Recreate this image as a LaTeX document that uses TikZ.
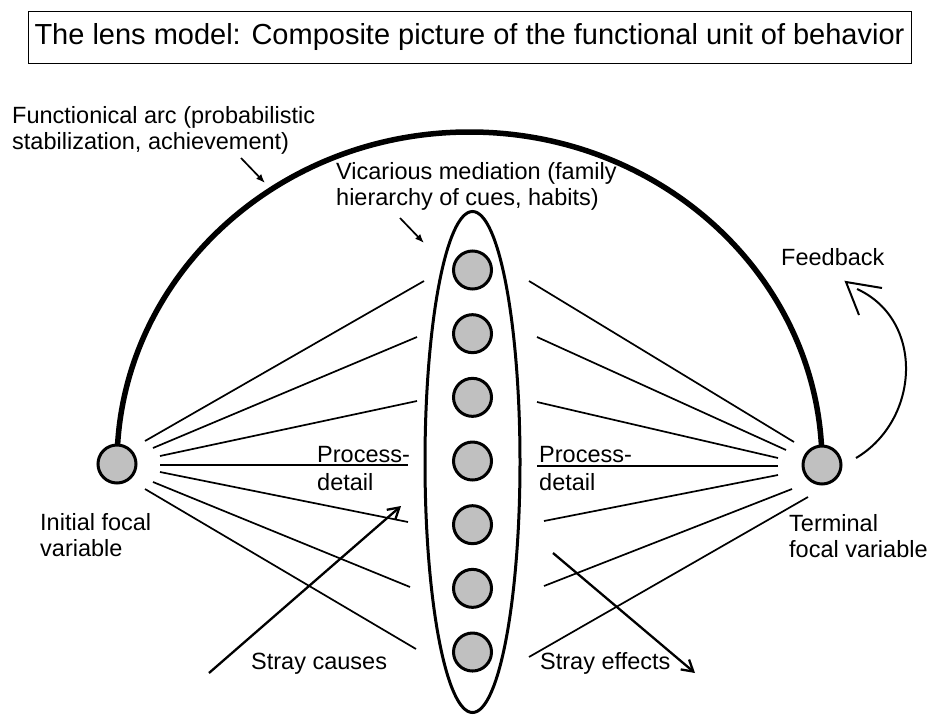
\documentclass[tikz,border=0pt]{standalone}
\usepackage{fontspec}
\setmainfont{Liberation Sans}
\usetikzlibrary{arrows.meta,shapes.geometric,backgrounds}
\definecolor{cuegray}{HTML}{C0C0C0}
\begin{document}
\begin{tikzpicture}[x=1pt,y=-1pt,
  focal/.style={circle,draw,line width=3pt,fill=cuegray,minimum size=38pt,inner sep=0pt},
  fan/.style={line width=1.7pt},
  lab/.style={font=\fontsize{23.5}{26.5}\selectfont,inner sep=0pt,anchor=base west},
  stray/.style={line width=2.3pt,-{Straight Barb[length=11pt,width=13pt,line width=2.3pt]}},
  pointer/.style={line width=1.7pt,-{Latex[length=9pt,width=7pt]}}]
\useasboundingbox (0,0) rectangle (929,715);

% title
\node[draw,line width=1pt,minimum width=883pt,minimum height=52pt,inner sep=0pt,
  font=\fontsize{29}{34}\selectfont] (title) at (469.5,37)
  {The lens model: Composite picture of the functional unit of behavior};

% lens
\node[draw,ellipse,line width=3pt,minimum width=95pt,minimum height=501pt,inner sep=0pt] (lens) at (472.5,462) {};
\foreach \i in {1,...,7}{
  \node[focal] (c\i) at (472.5,{270+(\i-1)*63.67}) {};
}

% focal variables
\node[focal] (L) at (117,464) {};
\node[focal] (R) at (822,465) {};

% functional arc
\begin{pgfonlayer}{background}
\draw[line width=5.5pt] (L.center) arc[start angle=180,end angle=360,x radius=352.5,y radius=332];
\end{pgfonlayer}

% fan coordinates
\coordinate (la1) at (145,441); \coordinate (lb1) at (424,281);
\coordinate (la2) at (153,448); \coordinate (lb2) at (417,337);
\coordinate (la3) at (160,456); \coordinate (lb3) at (417,401);
\coordinate (la4) at (160,465); \coordinate (lb4) at (408,465);
\coordinate (la5) at (160,472); \coordinate (lb5) at (408,522);
\coordinate (la6) at (153,482); \coordinate (lb6) at (410,587);
\coordinate (la7) at (145,489); \coordinate (lb7) at (416,649);
\coordinate (ra1) at (529,281); \coordinate (rb1) at (794,442);
\coordinate (ra2) at (537,337); \coordinate (rb2) at (786,450);
\coordinate (ra3) at (537,402); \coordinate (rb3) at (778,458);
\coordinate (ra4) at (537,466); \coordinate (rb4) at (778,466);
\coordinate (ra5) at (544,521); \coordinate (rb5) at (778,475);
\coordinate (ra6) at (544,586); \coordinate (rb6) at (792,489);
\coordinate (ra7) at (529,657); \coordinate (rb7) at (808,497);
\foreach \i in {1,...,7}{
  \draw[fan] (la\i) -- (lb\i);
  \draw[fan] (ra\i) -- (rb\i);
}

% labels
\node[lab] (arclab) at (12,123) {\begin{tabular}[t]{@{}l@{}}Functionical arc (probabilistic\\stabilization, achievement)\end{tabular}};
\node[lab] (viclab) at (336,179) {\begin{tabular}[t]{@{}l@{}}Vicarious mediation (family\\hierarchy of cues, habits)\end{tabular}};
\node[lab] (initlab) at (40,530) {\begin{tabular}[t]{@{}l@{}}Initial focal\\variable\end{tabular}};
\node[lab] (termlab) at (789,531) {\begin{tabular}[t]{@{}l@{}}Terminal\\focal variable\end{tabular}};
\node[lab,font=\fontsize{23.5}{28}\selectfont] (pdl) at (317,462) {\begin{tabular}[t]{@{}l@{}}Process-\\detail\end{tabular}};
\node[lab,font=\fontsize{23.5}{28}\selectfont] (pdr) at (539,462) {\begin{tabular}[t]{@{}l@{}}Process-\\detail\end{tabular}};
\node[lab] (causes) at (251,669) {Stray causes};
\node[lab] (effects) at (540,669) {Stray effects};
\node[lab] (fb) at (781,265) {Feedback};

% pointer arrows
\coordinate (p1s) at (241,158); \coordinate (p1e) at (265,183);
\coordinate (p2s) at (400,218); \coordinate (p2e) at (424,243);
\draw[pointer] (p1s) -- (p1e);
\draw[pointer] (p2s) -- (p2e);

% stray arrows
\coordinate (sc1) at (209,673); \coordinate (sc2) at (401,506);
\coordinate (se1) at (553,553); \coordinate (se2) at (695,673);
\draw[stray] (sc1) -- (sc2);
\draw[stray] (se1) -- (se2);

% feedback
\coordinate (fb1) at (856,458); \coordinate (fb2) at (857,289);
\coordinate (fbt) at (846,282); \coordinate (fbw1) at (882,288); \coordinate (fbw2) at (859,315);
\draw[line width=2pt] (fb1) .. controls (920,420) and (925,320) .. (fb2);
\draw[line width=2pt] (fbw1) -- (fbt) -- (fbw2);
\end{tikzpicture}
\end{document}
